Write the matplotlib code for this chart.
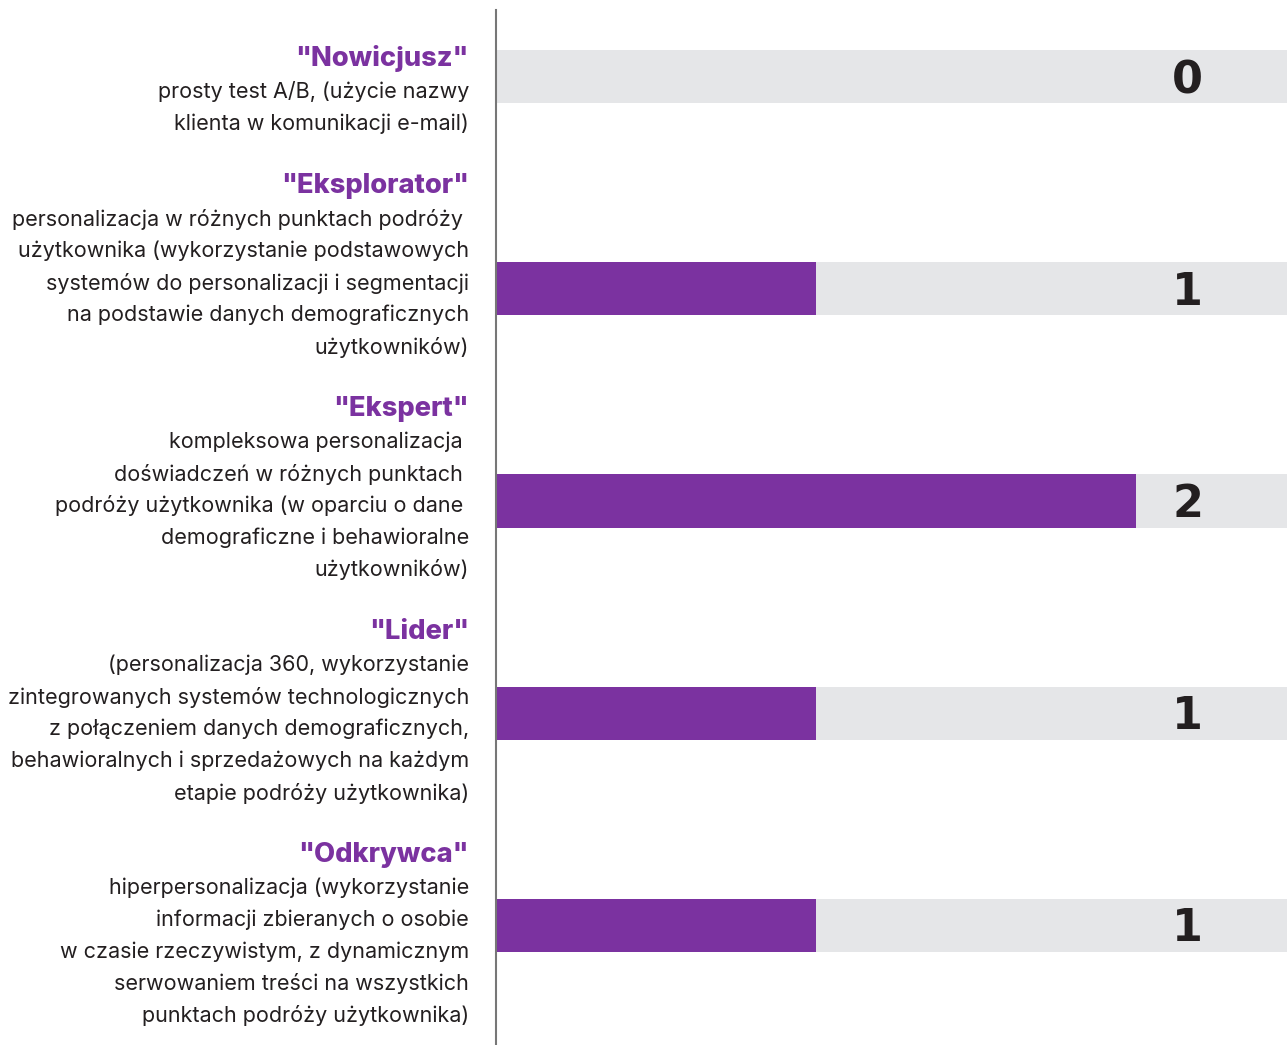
import matplotlib
matplotlib.use("Agg")
import matplotlib.pyplot as plt

# ---- data ----
titles = ['"Nowicjusz"', '"Eksplorator"', '"Ekspert"', '"Lider"', '"Odkrywca"']
descriptions = [
    ["prosty test A/B, (użycie nazwy", "klienta w komunikacji e-mail)"],
    ["personalizacja w różnych punktach podróży ",
     "użytkownika (wykorzystanie podstawowych",
     "systemów do personalizacji i segmentacji",
     "na podstawie danych demograficznych",
     "użytkowników)"],
    ["kompleksowa personalizacja ",
     "doświadczeń w różnych punktach ",
     "podróży użytkownika (w oparciu o dane ",
     "demograficzne i behawioralne",
     "użytkowników)"],
    ["(personalizacja 360, wykorzystanie",
     "zintegrowanych systemów technologicznych",
     "z połączeniem danych demograficznych,",
     "behawioralnych i sprzedażowych na każdym",
     "etapie podróży użytkownika)"],
    ["hiperpersonalizacja (wykorzystanie",
     "informacji zbieranych o osobie",
     "w czasie rzeczywistym, z dynamicznym",
     "serwowaniem treści na wszystkich",
     "punktach podróży użytkownika)"],
]
values = [0, 1, 2, 1, 1]
scale_max = 2.47

PURPLE = "#7B32A0"
GRAY = "#E5E6E8"
TEXT = "#231F20"

W, H = 1287, 1045
fig = plt.figure(figsize=(W / 100, H / 100), dpi=100)
ax = fig.add_axes([496 / W, 0, (W - 496) / W, (H - 10) / H])

ypos = list(range(len(values)))
ax.barh(ypos, [scale_max] * len(values), height=0.25, color=GRAY, zorder=1)
ax.barh(ypos, values, height=0.25, color=PURPLE, zorder=2)
for y, v in zip(ypos, values):
    ax.text(2.16, y + 0.018, str(v), ha="center", va="center", fontsize=32,
            fontweight="bold", color=TEXT, family="DejaVu Sans", zorder=3)

ax.set_xlim(0, scale_max)
ax.set_ylim(4.566, -0.316)
for s in ["top", "right", "bottom"]:
    ax.spines[s].set_visible(False)
ax.spines["left"].set_color("#777777")
ax.spines["left"].set_linewidth(1.5)
ax.set_xticks([])
ax.set_yticks([])

# ---- left labels ----
title_y = [59, 186, 409, 632, 855]
xr = 469 / W
for t, ty, desc in zip(titles, title_y, descriptions):
    fig.text(xr, 1 - ty / H, t, ha="right", va="center", fontsize=19.6,
             fontweight="heavy", color=PURPLE, family="Inter")
    for i, line in enumerate(desc):
        ly = ty + 33 + 32 * i
        fig.text(xr, 1 - ly / H, line, ha="right", va="center", fontsize=15.5,
                 color=TEXT, family="Inter")

fig.savefig("out.png", dpi=100, facecolor="white")
